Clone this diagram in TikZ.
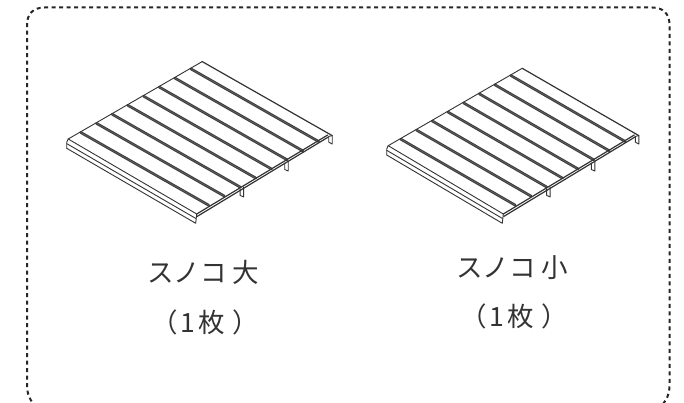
\documentclass[tikz,border=0pt]{standalone}
\usepackage{fontspec}
\usetikzlibrary{calc}
\newfontfamily\jpfont{Noto Sans CJK JP}
\definecolor{ink}{HTML}{333333}
\tikzset{
  thinline/.style={draw=ink,line width=0.9pt,line join=round,line cap=round},
  edgeline/.style={draw=ink,line width=1.2pt,line join=round,line cap=round},
  slatouter/.style={draw=black!75,line width=2.7pt,line cap=round},
  slatinner/.style={draw=black!58,line width=0.4pt},
  label/.style={font=\jpfont\fontsize{26.5}{30}\selectfont,text=ink,inner sep=0pt,anchor=center},
  frameline/.style={draw=black!85,line width=2pt,dash pattern=on 4pt off 3.5pt}
}
% #1,#2 left corner; #3,#4 long vector along the slats
\newcommand{\palletdraw}[4]{%
  \begin{scope}[shift={(#1,#2)}]
    \coordinate (A) at (0,0);
    \coordinate (C) at (135.5,-78.4);
    \coordinate (D) at (#3,#4);
    \coordinate (L) at (#3,#4);
    \coordinate (R) at ($(C)+(L)$);
    % slats
    \foreach \t in {0.10,0.216,0.332,0.447,0.563,0.679,0.794,0.912}{
      \coordinate (s) at ($(A)!\t!(C)$);
      \coordinate (e) at ($(s)+(L)$);
      \draw[slatouter] ($(s)+(0.5,0.3)$) -- ($(e)+(-1.5,-0.9)$);
      \draw[slatinner] ($(s)+(0.5,0.3)$) -- ($(e)+(-1.5,-0.9)$);
    }
    % outline of the deck
    \draw[thinline] ($(A)+(1.5,-1)$) -- (C);
    \draw[edgeline] (C) -- (R);
    % front fold
    \draw[thinline] ($(A)+(0,8.3)$) -- ($(A)+(0,2.3)$) -- ($(A)+(1.5,-1)$);
    \draw[thinline] ($(A)+(1.5,-1)$) -- (D);
    \draw[thinline] ($(A)+(0,3.6)$) -- ($(D)+(-1,4.4)$);
    \draw[thinline] ($(A)+(0,8.3)$) -- ($(D)+(-1,9.3)$) -- (D);
    % right strip, doubled
    \draw[edgeline] (D) -- ($(R)+(-4.5,-0.6)$);
    \draw[edgeline] ($(D)+(0.5,2.4)$) -- ($(R)+(-3.5,1.2)$);
    % right end
    \draw[thinline] (R) -- ($(R)+(0,8.5)$) -- ($(R)+(-3.5,6.5)$) -- ($(R)+(-3.5,0.8)$) -- cycle;
    % hanging flaps
    \foreach \t in {0.32,0.65}{
      \coordinate (f) at ($(D)!\t!(R)$);
      \draw[thinline] (f) -- ($(f)+(0,6.5)$) -- ($(f)+(3.5,8)$) -- ($(f)+(3.5,-2)$);
    }
  \end{scope}
}
\begin{document}
\begin{tikzpicture}[x=1pt,y=-1pt]
  \useasboundingbox (0,0) rectangle (684,403);
  \begin{scope}
    \clip (0,0) rectangle (684,403);
    \draw[frameline] (42,412) .. controls (32,404) and (27,397) .. (27,385) -- (27,25)
      .. controls (27,14) and (33,7.5) .. (44.5,7.5) -- (652,7.5)
      .. controls (663.5,7.5) and (669.5,14) .. (669.5,25) -- (669.5,385)
      .. controls (669.5,397) and (664.5,404) .. (654.5,412);
  \end{scope}
  \palletdraw{66.7}{140}{130}{74}
  \palletdraw{386.7}{146.7}{116.6}{67.3}
  \node[label] (bigname) at (203,272) {スノコ 大};
  \node[label] (bigqty) at (205,322) {（\kern3pt 1\kern3pt 枚\kern7pt）};
  \node[label] (smallname) at (512,268) {スノコ 小};
  \node[label] (smallqty) at (514,316) {（\kern3pt 1\kern3pt 枚\kern7pt）};
\end{tikzpicture}
\end{document}
